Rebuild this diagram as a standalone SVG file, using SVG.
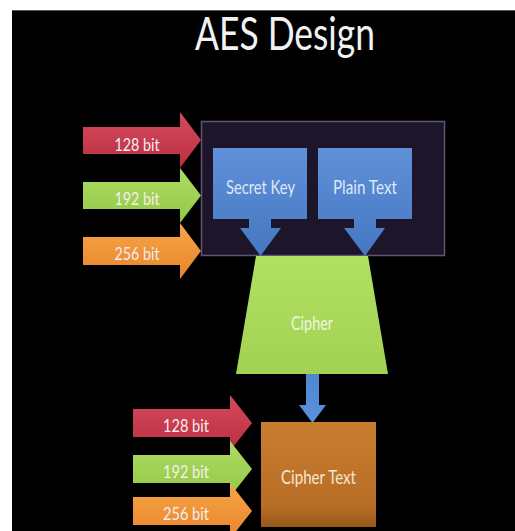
<svg xmlns="http://www.w3.org/2000/svg" width="515" height="531" viewBox="0 0 515 531">
  <defs>
    <linearGradient id="gBlue" x1="0" y1="0" x2="0" y2="1">
      <stop offset="0" stop-color="#5f90d8"/>
      <stop offset="1" stop-color="#4677c2"/>
    </linearGradient>
    <linearGradient id="gRed" x1="0" y1="0" x2="0" y2="1">
      <stop offset="0" stop-color="#d64a5c"/>
      <stop offset="1" stop-color="#b92f42"/>
    </linearGradient>
    <linearGradient id="gGreen" x1="0" y1="0" x2="0" y2="1">
      <stop offset="0" stop-color="#aedb62"/>
      <stop offset="1" stop-color="#93c946"/>
    </linearGradient>
    <linearGradient id="gOrange" x1="0" y1="0" x2="0" y2="1">
      <stop offset="0" stop-color="#f7a447"/>
      <stop offset="1" stop-color="#e8852b"/>
    </linearGradient>
    <linearGradient id="gCipher" x1="0" y1="0" x2="0" y2="1">
      <stop offset="0" stop-color="#b2e063"/>
      <stop offset="1" stop-color="#a2d154"/>
    </linearGradient>
    <linearGradient id="gCT" x1="0" y1="0" x2="0" y2="1">
      <stop offset="0" stop-color="#c97d31"/>
      <stop offset="0.8" stop-color="#b86d25"/>
      <stop offset="1" stop-color="#98591b"/>
    </linearGradient>
    <linearGradient id="gDown" x1="0" y1="0" x2="0" y2="1">
      <stop offset="0" stop-color="#4e86cf"/>
      <stop offset="1" stop-color="#5a92dc"/>
    </linearGradient>
  </defs>
  <style>
    text { font-family: Lato, "Open Sans", "DejaVu Sans", sans-serif; text-anchor: middle; }
    .lbl { font-size: 18px; fill: #f4eef0; }
    .box { font-size: 20px; fill: #dfe8f6; }
    .title { font-size: 46px; fill: #f2f2f2; }
  </style>

  <rect x="0" y="0" width="515" height="531" fill="#ffffff"/>
  <rect x="12" y="10" width="503" height="521" fill="#000000"/>
  <line x1="12" y1="10.5" x2="515" y2="10.5" stroke="#5a5a5a" stroke-width="1"/>

  <g id="title">
    <text class="title" x="285" y="50" textLength="180" lengthAdjust="spacingAndGlyphs">AES Design</text>
  </g>

  <g id="input-box">
    <rect x="201.5" y="121.5" width="243" height="134" fill="#1d1529" stroke="#5f5479" stroke-width="1.5"/>
  </g>

  <g id="key-sizes-top">
    <g id="top-128">
      <path d="M83,127 H180 V112 L201,140 L180,168 V154 H83 Z" fill="url(#gRed)"/>
      <text class="lbl" x="137" y="151" textLength="45" lengthAdjust="spacingAndGlyphs">128 bit</text>
    </g>
    <g id="top-192">
      <path d="M83,182 H180 V168 L201,195.5 L180,223 V209 H83 Z" fill="url(#gGreen)"/>
      <text class="lbl" x="137" y="205" textLength="45" lengthAdjust="spacingAndGlyphs">192 bit</text>
    </g>
    <g id="top-256">
      <path d="M83,237 H180 V223 L201,251 L180,279 V265 H83 Z" fill="url(#gOrange)"/>
      <text class="lbl" x="137" y="260" textLength="45" lengthAdjust="spacingAndGlyphs">256 bit</text>
    </g>
  </g>

  <g id="secret-key">
    <path d="M213,148 H307 V219 H271 V228 H281 L260.5,256 L240,228 H249 V219 H213 Z" fill="url(#gBlue)"/>
    <text class="box" x="260.5" y="194" textLength="69" lengthAdjust="spacingAndGlyphs">Secret Key</text>
  </g>

  <g id="plain-text">
    <path d="M318,148 H412 V219 H376 V228 H385 L365,256 L344,228 H354 V219 H318 Z" fill="url(#gBlue)"/>
    <text class="box" x="365" y="194" textLength="64" lengthAdjust="spacingAndGlyphs">Plain Text</text>
  </g>

  <g id="cipher">
    <path d="M256,256 L368,256 L388,374 L236,374 Z" fill="url(#gCipher)"/>
    <text class="box" x="312" y="330" fill="#eef6e2" style="fill:#eef6e2" textLength="42" lengthAdjust="spacingAndGlyphs">Cipher</text>
  </g>

  <g id="connectors">
    <path d="M306,374 H319 V405 H326 L312.5,423 L299,405 H306 Z" fill="url(#gDown)"/>
  </g>

  <g id="cipher-text">
    <rect x="261" y="422" width="115" height="105" fill="url(#gCT)"/>
    <text class="box" x="318.5" y="484" style="fill:#f6e6d4" textLength="75" lengthAdjust="spacingAndGlyphs">Cipher Text</text>
  </g>

  <g id="key-sizes-bottom">
    <g id="bottom-128">
      <path d="M133,409 H230 V395 L252,423 L230,451 V437 H133 Z" fill="url(#gRed)"/>
      <text class="lbl" x="186" y="432" textLength="46" lengthAdjust="spacingAndGlyphs">128 bit</text>
    </g>
    <g id="bottom-192">
      <path d="M133,455 H230 V441 L252,469 L230,497 V483 H133 Z" fill="url(#gGreen)"/>
      <text class="lbl" x="186" y="478" textLength="46" lengthAdjust="spacingAndGlyphs">192 bit</text>
    </g>
    <g id="bottom-256">
      <path d="M133,497 H230 V483 L252,511 L230,539 V525 H133 Z" fill="url(#gOrange)"/>
      <text class="lbl" x="186" y="520" textLength="46" lengthAdjust="spacingAndGlyphs">256 bit</text>
    </g>
  </g>
</svg>
